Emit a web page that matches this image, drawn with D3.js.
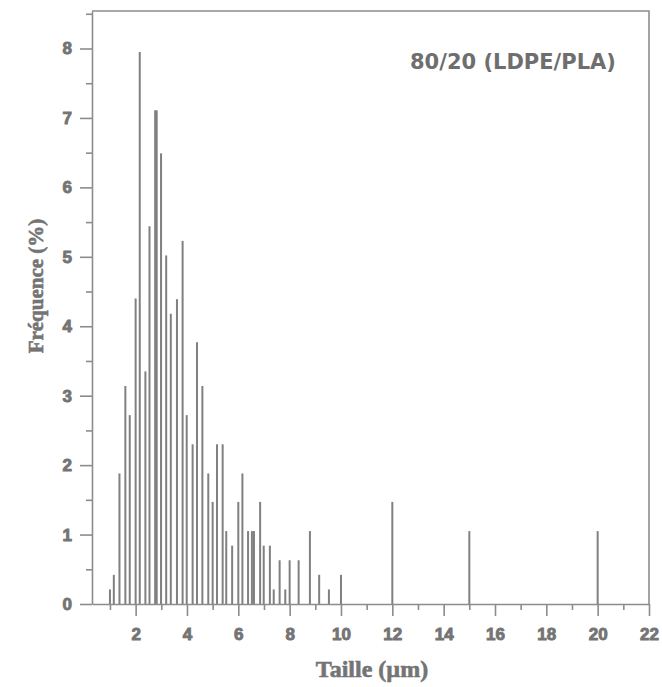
<!DOCTYPE html>
<html>
<head>
<meta charset="utf-8">
<script src="https://cdn.jsdelivr.net/npm/d3@7"></script>
<style>
  html, body { margin: 0; padding: 0; background: #fff; }
  svg { display: block; }
</style>
</head>
<body>
<svg id="chart" width="662" height="687"></svg>
<script>
// Particle size (µm) and frequency (%)
const sizes = [1.0, 1.15, 1.37, 1.6, 1.77, 2.0, 2.16, 2.38, 2.54, 2.76, 2.82, 2.99, 3.19, 3.37, 3.61, 3.83, 3.99,
  4.22, 4.39, 4.6, 4.83, 5.0, 5.17, 5.39, 5.53, 5.76, 6.0, 6.16, 6.38, 6.53, 6.61, 6.85, 6.99, 7.23, 7.38,
  7.61, 7.83, 8.0, 8.35, 8.79, 9.15, 9.53, 10.0, 12.0, 15.0, 20.0];
const freqs = [0.21, 0.42, 1.88, 3.14, 2.72, 4.40, 7.95, 3.35, 5.44, 7.11, 7.11, 6.49, 5.02, 4.18, 4.39, 5.23, 2.72,
  2.30, 3.77, 3.14, 1.88, 1.47, 2.30, 2.30, 1.05, 0.84, 1.47, 1.88, 1.05, 1.05, 1.05, 1.47, 0.84, 0.84, 0.21,
  0.63, 0.21, 0.63, 0.63, 1.05, 0.42, 0.21, 0.42, 1.47, 1.05, 1.05];
const xMajorTicks = [2, 4, 6, 8, 10, 12, 14, 16, 18, 20, 22];
const xMinorTicks = [1, 3, 5, 7, 9, 11, 13, 15, 17, 19, 21];
const yMajorTicks = [0, 1, 2, 3, 4, 5, 6, 7, 8];
const yMinorTicks = [0.5, 1.5, 2.5, 3.5, 4.5, 5.5, 6.5, 7.5, 8.5];
const xTitle = "Taille (µm)";
const yTitle = "Fréquence (%)";
const chartTitle = "80/20 (LDPE/PLA)";

const data = sizes.map((s, i) => ({ s, f: freqs[i] }));

const svg = d3.select("#chart");
const axisColor = "#8c8c8c";
const textColor = "#747474";

const x = d3.scaleLinear().domain([0.3, 22]).range([92, 649]);
const y = d3.scaleLinear().domain([0, 8.54]).range([604, 11]);

// frame (top and right)
svg.append("path")
  .attr("d", `M${x(0.3)},${y(8.54)}H${x(22)}V${y(0)}`)
  .attr("fill", "none").attr("stroke", axisColor).attr("stroke-width", 1.6);

// bars
svg.append("g").selectAll("rect").data(data).join("rect")
  .attr("x", d => x(d.s) - 1)
  .attr("width", 2)
  .attr("y", d => y(d.f))
  .attr("height", d => y(0) - y(d.f))
  .attr("fill", "#808080");

function styleAxis(g) {
  g.select(".domain").attr("stroke", axisColor).attr("stroke-width", 1.6);
  g.selectAll(".tick line").attr("stroke", axisColor).attr("stroke-width", 1.6);
  g.selectAll(".tick text")
    .attr("fill", textColor)
    .attr("stroke", textColor).attr("stroke-width", 0.9)
    .style("font-family", "'Liberation Sans', Arial, sans-serif")
    .style("font-weight", "bold")
    .style("font-size", "17px");
}

// y axis
const yMinor = svg.append("g").attr("transform", `translate(${x(0.3)},0)`)
  .call(d3.axisLeft(y).tickValues(yMinorTicks).tickSize(6).tickFormat(""));
yMinor.select(".domain").remove();
yMinor.selectAll(".tick line").attr("stroke", axisColor).attr("stroke-width", 1.6);
const yMajor = svg.append("g").attr("transform", `translate(${x(0.3)},0)`)
  .call(d3.axisLeft(y).tickValues(yMajorTicks).tickSize(12).tickSizeOuter(0).tickPadding(8).tickFormat(d3.format("d")));
styleAxis(yMajor);

// x axis
const xMinor = svg.append("g").attr("transform", `translate(0,${y(0)})`)
  .call(d3.axisBottom(x).tickValues(xMinorTicks).tickSize(6).tickFormat(""));
xMinor.select(".domain").remove();
xMinor.selectAll(".tick line").attr("stroke", axisColor).attr("stroke-width", 1.6);
const xMajor = svg.append("g").attr("transform", `translate(0,${y(0)})`)
  .call(d3.axisBottom(x).tickValues(xMajorTicks).tickSize(12).tickSizeOuter(0).tickPadding(12).tickFormat(d3.format("d")));
styleAxis(xMajor);

// axis titles
svg.append("text")
  .attr("x", 372).attr("y", 677)
  .attr("text-anchor", "middle")
  .attr("fill", textColor).attr("stroke", textColor).attr("stroke-width", 0.6)
  .style("font-family", "'Liberation Serif', 'Times New Roman', serif")
  .style("font-weight", "bold").style("font-size", "24px")
  .text(xTitle);

svg.append("text")
  .attr("transform", "translate(43,286) rotate(-90)")
  .attr("text-anchor", "middle")
  .attr("fill", textColor).attr("stroke", textColor).attr("stroke-width", 0.6)
  .style("font-family", "'Liberation Serif', 'Times New Roman', serif")
  .style("font-weight", "bold").style("font-size", "21px")
  .text(yTitle);

// chart label
svg.append("text")
  .attr("x", 410).attr("y", 69)
  .attr("fill", "#6e6e6e")
  .style("font-family", "'DejaVu Sans', sans-serif")
  .style("font-weight", "bold").style("font-size", "21px")
  .text(chartTitle);
</script>
</body>
</html>
